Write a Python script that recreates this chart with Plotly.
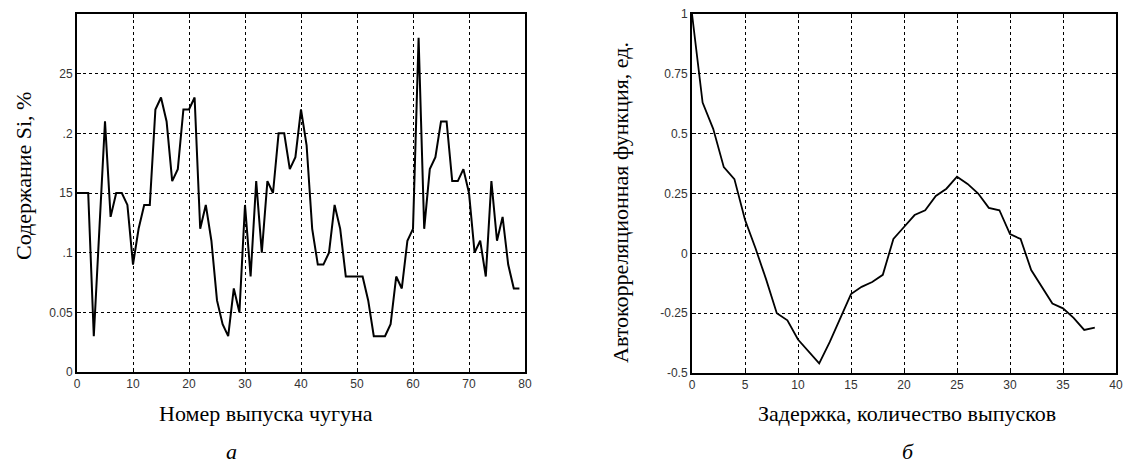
import plotly.graph_objects as go

# ---- data: panel a (Si content by cast number) ----
cast_no = list(range(0, 80))
si_content = [
    0.15, 0.15, 0.15, 0.03, 0.12, 0.21, 0.13, 0.15, 0.15, 0.14,
    0.09, 0.12, 0.14, 0.14, 0.22, 0.23, 0.21, 0.16, 0.17, 0.22,
    0.22, 0.23, 0.12, 0.14, 0.11, 0.06, 0.04, 0.03, 0.07, 0.05,
    0.14, 0.08, 0.16, 0.10, 0.16, 0.15, 0.20, 0.20, 0.17, 0.18,
    0.22, 0.19, 0.12, 0.09, 0.09, 0.10, 0.14, 0.12, 0.08, 0.08,
    0.08, 0.08, 0.06, 0.03, 0.03, 0.03, 0.04, 0.08, 0.07, 0.11,
    0.12, 0.28, 0.12, 0.17, 0.18, 0.21, 0.21, 0.16, 0.16, 0.17,
    0.15, 0.10, 0.11, 0.08, 0.16, 0.11, 0.13, 0.09, 0.07, 0.07,
]

# ---- data: panel b (autocorrelation by lag) ----
lag = list(range(0, 39))
acf = [
    1.00, 0.63, 0.52, 0.36, 0.31, 0.14, 0.02, -0.11, -0.25, -0.28,
    -0.36, -0.41, -0.46, -0.37, -0.27, -0.17, -0.14, -0.12, -0.09, 0.06,
    0.11, 0.16, 0.18, 0.24, 0.27, 0.32, 0.29, 0.25, 0.19, 0.18,
    0.08, 0.06, -0.07, -0.14, -0.21, -0.23, -0.27, -0.32, -0.31,
]

# ---- tick labels ----
a_xticks = [0, 10, 20, 30, 40, 50, 60, 70, 80]
a_yticks = [0, 0.05, 0.10, 0.15, 0.20, 0.25]
a_yticktext = ["0", "0.05", ".1", "15", ".2", "25"]
b_xticks = [0, 5, 10, 15, 20, 25, 30, 35, 40]
b_yticks = [-0.5, -0.25, 0, 0.25, 0.5, 0.75, 1]
b_yticktext = ["-0.5", "-0.25", "0", "0.25", "0.5", "0.75", "1"]

W, H = 1128, 468

def px(x):
    return x / W

def py(y):
    return 1 - y / H

tickfont = dict(family="Liberation Sans, Arial, sans-serif", size=12, color="#333333")
serif = "Liberation Serif, Times New Roman, serif"

axis_common = dict(
    showgrid=True, gridcolor="black", gridwidth=1, griddash="3px,3px",
    ticks="inside", ticklen=4, tickcolor="black", tickwidth=1,
    showline=True, linecolor="black", linewidth=2, mirror="ticks",
    zeroline=False, tickfont=tickfont, automargin=False,
)

fig = go.Figure()
fig.add_trace(go.Scatter(x=cast_no, y=si_content, mode="lines",
                         line=dict(color="black", width=2),
                         xaxis="x", yaxis="y", showlegend=False))
fig.add_trace(go.Scatter(x=lag, y=acf, mode="lines",
                         line=dict(color="black", width=1.8),
                         xaxis="x2", yaxis="y2", showlegend=False))

fig.update_layout(
    width=W, height=H,
    margin=dict(l=0, r=0, t=0, b=0, autoexpand=False),
    paper_bgcolor="white", plot_bgcolor="white",
    showlegend=False,
    xaxis=dict(domain=[px(77), px(525)], range=[0, 80], tickvals=a_xticks,
               anchor="y", **axis_common),
    yaxis=dict(domain=[py(372), py(14)], range=[0, 0.3], tickvals=a_yticks,
               ticktext=a_yticktext, anchor="x", **axis_common),
    xaxis2=dict(domain=[px(692), px(1116)], range=[0, 40], tickvals=b_xticks,
                anchor="y2", **axis_common),
    yaxis2=dict(domain=[py(373), py(14)], range=[-0.5, 1], tickvals=b_yticks,
                ticktext=b_yticktext, anchor="x2", **axis_common),
)

def note(text, x, y, angle=0, italic=False, size=22):
    fig.add_annotation(
        text=("<i>%s</i>" % text) if italic else text,
        x=px(x), y=py(y), xref="paper", yref="paper",
        showarrow=False, textangle=angle,
        xanchor="center", yanchor="middle",
        font=dict(family=serif, size=size, color="black"),
    )

note("Содержание Si, %", 23, 176, angle=-90)
note("Номер выпуска чугуна", 266, 413)
note("а", 231, 451, italic=True)
note("Автокорреляционная функция, ед.", 620, 203, angle=-90)
note("Задержка, количество выпусков", 907, 413)
note("б", 908, 451, italic=True)

fig.write_html(
    "out.html",
    config={"displayModeBar": False, "staticPlot": True},
    post_script="document.body.style.margin='0';document.body.style.padding='0';"
                "document.body.style.overflow='hidden';",
)
